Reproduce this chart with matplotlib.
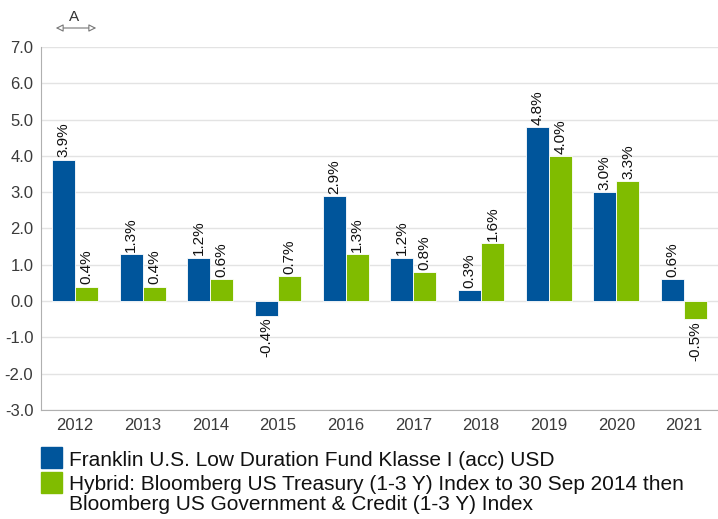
import matplotlib
matplotlib.use('Agg')
import matplotlib.pyplot as plt
from matplotlib.patches import FancyArrowPatch, Rectangle
import numpy as np

years = ['2012', '2013', '2014', '2015', '2016', '2017', '2018', '2019', '2020', '2021']
fund = [3.9, 1.3, 1.2, -0.4, 2.9, 1.2, 0.3, 4.8, 3.0, 0.6]
bench = [0.4, 0.4, 0.6, 0.7, 1.3, 0.8, 1.6, 4.0, 3.3, -0.5]
fund_name = 'Franklin U.S. Low Duration Fund Klasse I (acc) USD'
bench_name = 'Hybrid: Bloomberg US Treasury (1-3 Y) Index to 30 Sep 2014 then\nBloomberg US Government & Credit (1-3 Y) Index'

blue = '#00559b'
green = '#80bc00'

plt.rcParams['font.family'] = ['Liberation Sans', 'DejaVu Sans']

W, H = 718, 519
fig = plt.figure(figsize=(W / 100, H / 100), dpi=100)
ax = fig.add_axes([41 / W, 1 - 410 / H, 677 / W, 363 / H])

x = np.arange(len(years))
w = 0.34
b1 = ax.bar(x - w / 2, fund, w, color=blue, edgecolor='white', linewidth=0.6, zorder=3)
b2 = ax.bar(x + w / 2, bench, w, color=green, edgecolor='white', linewidth=0.6, zorder=3)

for bars, vals in ((b1, fund), (b2, bench)):
    for r, v in zip(bars, vals):
        cx = r.get_x() + r.get_width() / 2
        if v >= 0:
            ax.annotate('%.1f%%' % v, (cx, v), xytext=(0, 1.5), textcoords='offset points',
                        rotation=90, ha='center', va='bottom', fontsize=11, color='#111111')
        else:
            ax.annotate('%.1f%%' % v, (cx, v), xytext=(0, -1.5), textcoords='offset points',
                        rotation=90, ha='center', va='top', fontsize=11, color='#111111')

ax.set_xlim(-0.5, len(years) - 0.5)
ax.set_ylim(-3, 7)
yt = np.arange(-3, 7.5, 1)
ax.set_yticks(yt)
ax.set_yticklabels(['%.1f' % t for t in yt])
ax.set_xticks(x)
ax.set_xticklabels(years)
ax.tick_params(axis='both', length=0, labelsize=12, colors='#3a3a3a')
ax.tick_params(axis='x', pad=6)
ax.tick_params(axis='y', pad=5.5)
ax.grid(axis='y', color='#e3e3e3', linewidth=1, zorder=0)
for s in ['top', 'right']:
    ax.spines[s].set_visible(False)
ax.spines['left'].set_color('#b0b0b0')
ax.spines['bottom'].set_color('#b0b0b0')

# legend
fig.patches.append(Rectangle((41 / W, 1 - 468 / H), 21 / W, 21 / H, transform=fig.transFigure, color=blue))
fig.patches.append(Rectangle((41 / W, 1 - 493 / H), 21 / W, 21 / H, transform=fig.transFigure, color=green))
fig.text(69 / W, 1 - 466 / H, fund_name, fontsize=15, va='baseline', color='#111111')
fig.text(69 / W, 1 - 475 / H, bench_name, fontsize=15, va='top', color='#111111', linespacing=1.08)

# "A" arrow marker
fig.add_artist(FancyArrowPatch((53 / W, 1 - 28 / H), (99 / W, 1 - 28 / H),
                               transform=fig.transFigure, arrowstyle='<|-|>',
                               mutation_scale=11, edgecolor='#777777', facecolor='white',
                               linewidth=0.8))
fig.text(74 / W, 1 - 17 / H, 'A', fontsize=11, ha='center', va='center', color='#333333')

fig.savefig('out.png', dpi=100)
